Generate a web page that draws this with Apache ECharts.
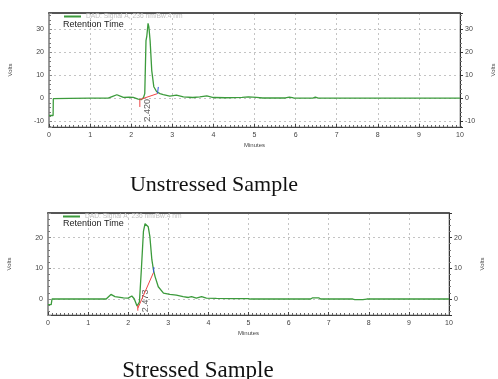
<!DOCTYPE html>
<html>
<head>
<meta charset="utf-8">
<script src="https://cdn.jsdelivr.net/npm/echarts@6/dist/echarts.min.js"></script>
<style>
  html, body { margin: 0; padding: 0; background: #fff; }
  #chart { width: 498px; height: 379px; }
</style>
</head>
<body>
<div id="chart"></div>
<script>
// chromatogram traces (minutes / volts)
const unstressedTime = [0, 0.1, 0.105, 0.5, 1.0, 1.44, 1.55, 1.65, 1.72, 1.81, 1.95, 2.05, 2.17, 2.25, 2.3, 2.33, 2.36, 2.38, 2.41, 2.43, 2.46, 2.5, 2.55, 2.62, 2.7, 2.78, 2.94, 3.1, 3.27, 3.5, 3.67, 3.84, 4.0, 4.3, 4.7, 4.85, 5.05, 5.2, 5.75, 5.85, 5.95, 6.1, 6.42, 6.48, 6.55, 7, 8, 9, 10];
const unstressedVolts = [-7.5, -7.5, -0.2, -0.1, 0, 0, 0.8, 1.5, 1.0, 0.4, 0.5, 0.4, -0.4, -0.6, 0.3, 2, 25, 27, 32.5, 31, 25, 12, 5, 2.8, 2.0, 1.6, 0.9, 1.3, 0.6, 0.3, 0.6, 1.0, 0.3, 0.2, 0.4, 0.6, 0.4, 0.1, 0.1, 0.5, 0.1, 0, 0, 0.5, 0, 0, 0, 0, 0];

const stressedTime = [0, 0.08, 0.1, 0.5, 1.0, 1.45, 1.57, 1.67, 1.88, 2.0, 2.09, 2.15, 2.22, 2.28, 2.33, 2.38, 2.42, 2.46, 2.5, 2.54, 2.59, 2.63, 2.67, 2.75, 2.88, 3.04, 3.2, 3.37, 3.5, 3.58, 3.7, 3.83, 3.95, 4.2, 4.61, 5.0, 5.05, 6.55, 6.6, 6.75, 6.8, 7.6, 7.65, 7.85, 7.95, 8.5, 9, 10];
const stressedVolts = [-1.8, -1.8, 0, 0, 0, 0, 1.5, 0.8, 0.4, 0.3, 1.0, 0.1, -2.3, -1, 10, 22, 24.5, 24.8, 23.5, 20.4, 12.8, 9.5, 7.3, 4.0, 1.9, 1.5, 1.3, 0.8, 0.5, 0.8, 0.3, 0.8, 0.3, 0.2, 0.1, 0.1, 0, 0, 0.4, 0.4, 0, 0, -0.2, -0.2, 0, 0, 0, 0];

// integration marks: baseline, start drop, end tick, retention label
const unstressedBaseline = [[2.21, -0.6], [2.64, 2.0]];
const unstressedStart = [[2.21, -3.8], [2.21, -0.6]];
const unstressedEnd = [[2.64, 2.0], [2.66, 4.9]];
const unstressedRt = [2.4, -5.2];
const unstressedRtLabel = '2.420';

const stressedBaseline = [[2.24, -3.0], [2.63, 8.6]];
const stressedStart = [[2.24, -3.8], [2.24, -2.0]];
const stressedEnd = [[2.63, 8.6], [2.64, 10.4]];
const stressedRt = [2.44, -0.6];
const stressedRtLabel = '2.473';

const yRanges = [[-12.5, 37], [-5.2, 28]];
const legendName = 'DAD: Signal A, 236 nm/Bw:4 nm';
const captions = ['Unstressed Sample', 'Stressed Sample'];

const chart = echarts.init(document.getElementById('chart'));

const zip = (xs, ys) => xs.map((x, i) => [x, ys[i]]);
const SANS = 'Liberation Sans';

const grids = [
  { left: 49, top: 13, width: 411, height: 114 },
  { left: 48, top: 213, width: 401, height: 102 }
];

const xAxis = [];
const yAxis = [];
grids.forEach((g, i) => {
  xAxis.push({
    type: 'value', gridIndex: i, min: 0, max: 10, interval: 1,
    name: 'Minutes', nameLocation: 'middle', nameGap: 15,
    nameTextStyle: { fontSize: 6, color: '#444', fontFamily: SANS },
    axisLine: { onZero: false, lineStyle: { color: '#444', width: 1 } },
    axisTick: { inside: true, length: 3, lineStyle: { color: '#444' } },
    minorTick: { show: true, splitNumber: 10, length: 2, lineStyle: { color: '#666' } },
    splitLine: { show: true, lineStyle: { color: '#c4c4c4', type: [2, 3] } },
    axisLabel: { fontSize: 7, color: '#444', margin: 5, fontFamily: SANS }
  });
  xAxis.push({
    type: 'value', gridIndex: i, min: 0, max: 10, position: 'top',
    axisLine: { onZero: false, lineStyle: { color: '#555', width: 2 } },
    axisTick: { show: false }, axisLabel: { show: false }, splitLine: { show: false }
  });
});
grids.forEach((g, i) => {
  const common = {
    type: 'value', gridIndex: i, min: yRanges[i][0], max: yRanges[i][1],
    minInterval: 10, maxInterval: 10,
    name: 'Volts', nameLocation: 'middle', nameRotate: 90,
    nameTextStyle: { fontSize: 6, color: '#444', fontFamily: SANS },
    axisLabel: {
      fontSize: 7, color: '#444', margin: 5, fontFamily: SANS,
      formatter: v => (Math.abs(v % 10) < 1e-6 ? String(v) : '')
    },
    minorTick: { show: true, splitNumber: 5, length: 2, lineStyle: { color: '#777' } }
  };
  yAxis.push(Object.assign({}, common, {
    position: 'left', nameGap: 36,
    axisLine: { show: true, onZero: false, lineStyle: { color: '#888', width: 1.5 } },
    axisTick: { show: true, inside: true, length: 3, lineStyle: { color: '#888' } },
    splitLine: { show: true, lineStyle: { color: '#c4c4c4', type: [2, 3] } }
  }));
  yAxis.push(Object.assign({}, common, {
    position: 'right', nameGap: 30,
    axisLine: { show: true, onZero: false, lineStyle: { color: '#333', width: 1 } },
    axisTick: { show: true, length: 3, lineStyle: { color: '#333' } },
    splitLine: { show: false }
  }));
});

function panel(i, time, volts, base, start, end, rt, rtLabel) {
  const xi = i * 2, yi = i * 2;
  const thin = (color, data) => ({
    type: 'line', xAxisIndex: xi, yAxisIndex: yi, data, symbol: 'none', silent: true,
    lineStyle: { color, width: 1 }, z: 3
  });
  return [
    {
      name: legendName, type: 'line', xAxisIndex: xi, yAxisIndex: yi,
      data: zip(time, volts), symbol: 'none', color: '#3c9b3c',
      lineStyle: { color: '#3c9b3c', width: 1.3 }, z: 2
    },
    thin('#ee4444', base),
    thin('#ee4444', start),
    thin('#3355dd', end),
    {
      type: 'scatter', xAxisIndex: xi, yAxisIndex: yi, data: [rt], symbolSize: 0, silent: true,
      label: {
        show: true, position: 'inside', rotate: 90, formatter: rtLabel,
        fontSize: 9, color: '#333', fontFamily: SANS
      }
    }
  ];
}

const legendBase = {
  data: [{ name: legendName, icon: 'rect' }], itemWidth: 17, itemHeight: 2, itemGap: 4, padding: 0,
  textStyle: { fontSize: 6.7, color: '#c2c2c2', fontFamily: SANS }, selectedMode: false
};

chart.setOption({
  animation: false,
  grid: grids.map(g => Object.assign({ show: true, borderColor: '#999', borderWidth: 1, outerBoundsMode: 'none', containLabel: false }, g)),
  xAxis, yAxis,
  legend: [
    Object.assign({ left: 64, top: 13 }, legendBase),
    Object.assign({ left: 63, top: 213 }, legendBase)
  ],
  title: [
    { text: 'Retention Time', left: 63, top: 20, padding: 0,
      textStyle: { fontSize: 9, fontWeight: 'normal', color: '#222', fontFamily: SANS } },
    { text: 'Retention Time', left: 63, top: 219, padding: 0,
      textStyle: { fontSize: 9, fontWeight: 'normal', color: '#222', fontFamily: SANS } }
  ],
  graphic: [
    { type: 'text', x: 214, y: 185, style: { text: captions[0], font: '22px "Liberation Serif"', fill: '#111', align: 'center', verticalAlign: 'middle' } },
    { type: 'text', x: 198, y: 371, style: { text: captions[1], font: '23px "Liberation Serif"', fill: '#111', align: 'center', verticalAlign: 'middle' } }
  ],
  series: [
    ...panel(0, unstressedTime, unstressedVolts, unstressedBaseline, unstressedStart, unstressedEnd, unstressedRt, unstressedRtLabel),
    ...panel(1, stressedTime, stressedVolts, stressedBaseline, stressedStart, stressedEnd, stressedRt, stressedRtLabel)
  ]
});
</script>
</body>
</html>
